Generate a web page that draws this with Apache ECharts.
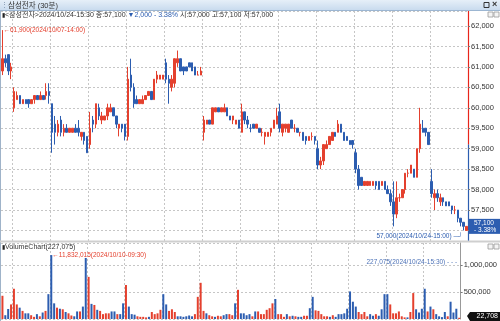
<!DOCTYPE html>
<html>
<head>
<meta charset="utf-8">
<script src="https://cdn.jsdelivr.net/npm/echarts@6/dist/echarts.min.js"></script>
<style>
  html, body { margin: 0; padding: 0; background: #fff; }
  #chart { width: 500px; height: 321px; }
</style>
</head>
<body>
<div id="chart"></div>
<script>
// 삼성전자 30분봉: [시가, 종가, 저가, 고가]
const stockName = '삼성전자';
const days = ['2024/10/07', '2024/10/08', '2024/10/10', '2024/10/11', '2024/10/14', '2024/10/15',
  '2024/10/16', '2024/10/17', '2024/10/18', '2024/10/21', '2024/10/22', '2024/10/23', '2024/10/24'];
const sessionTimes = ['09:30', '10:00', '10:30', '11:00', '11:30', '12:00', '12:30',
  '13:00', '13:30', '14:00', '14:30', '15:00', '15:30'];
const firstDayTimes = ['14:00', '14:30', '15:00', '15:30'];

const oct07 = [[60900,61200,60800,61900],[61200,61100,61000,61300],[61300,60900,60800,61300],[60900,61000,60700,61100]];
const oct08 = [[60000,60400,59900,60500],[60200,60300,60200,60400],[60300,60100,60100,60300],[60100,60200,60100,60200],
  [60200,60100,60100,60200],[60200,60100,60000,60200],[60100,60200,60100,60200],[60200,60300,60100,60300],
  [60300,60200,60200,60300],[60200,60300,60200,60400],[60300,60200,60200,60300],[60300,60400,60200,60600],[60400,60300,60100,60600]];
const oct10 = [[60100,59400,58900,60100],[59600,59400,59100,59800],[59400,59600,59300,59700],[59700,59400,59300,59800],
  [59400,59500,59300,59600],[59500,59400,59400,59600],[59400,59500,59400,59500],[59400,59500,59400,59500],
  [59500,59400,59400,59600],[59500,59400,59300,59700],[59300,59400,59200,59400],[59400,59200,59100,59400],[59300,58900,58900,59300]];
const oct11 = [[59100,59500,59000,59900],[59700,59600,59400,59800],[59600,60100,59500,60100],[60000,59800,59700,60100],
  [59700,59800,59600,59900],[59700,59800,59700,59800],[59800,60000,59700,60100],[59900,60000,59900,60100],
  [60000,59800,59800,60000],[59800,59600,59500,59800],[59500,59600,59300,59600],[59600,59500,59400,59600],[59600,59300,59200,59600]];
const oct14 = [[59300,60700,59200,61000],[60800,60500,60400,61200],[60500,60100,60000,60600],[60200,60100,60100,60300],
  [60100,60200,60100,60200],[60100,60200,60100,60300],[60200,60300,60200,60300],[60300,60400,60300,60400],
  [60400,60200,60200,60400],[60200,60700,60200,60700],[60700,60800,60600,60900],[60700,60800,60700,60800],[60700,60800,60700,60800]];
const oct15 = [[61100,60700,60600,61200],[60700,60600,60100,60800],[60500,60700,60400,60800],[60600,61200,60500,61200],
  [61100,61200,61000,61400],[61200,60900,60900,61200],[61000,60900,60800,61000],[61000,60900,60900,61000],
  [61100,61000,61000,61100],[61100,60900,60900,61100],[61000,60800,60800,61000],[60800,60800,60800,60900],[60800,60900,60800,61000]];
const oct16 = [[59400,59700,59200,59800],[59600,59700,59600,59700],[59700,59600,59600,59700],[59600,60000,59600,60000],
  [59900,60000,59900,60000],[60000,59900,59900,60000],[59900,60000,59900,60000],[59900,60000,59900,60100],
  [60000,59800,59800,60000],[59800,59700,59700,59800],[59700,59800,59600,59800],[59600,59700,59600,59700],[59700,59500,59500,59700]];
const oct17 = [[59400,59900,59400,60100],[59900,59700,59600,59900],[59700,59600,59500,59800],[59500,59500,59400,59600],
  [59600,59500,59500,59600],[59500,59600,59500,59600],[59500,59400,59400,59500],[59400,59400,59300,59500],
  [59300,59400,59100,59400],[59300,59400,59300,59400],[59400,59500,59300,59500],[59500,59700,59500,59700],[59600,59800,59600,60000]];
const oct18 = [[59900,59500,59400,60100],[59400,59600,59300,59600],[59500,59600,59400,59600],[59400,59600,59400,59600],
  [59700,59500,59500,59700],[59500,59500,59400,59600],[59500,59400,59400,59500],[59400,59400,59300,59400],
  [59400,59200,59200,59400],[59300,59200,59100,59300],[59200,59300,59200,59300],[59300,59300,59200,59400],[59300,59200,59100,59300]];
const oct21 = [[59000,58600,58500,59200],[58600,58700,58500,58800],[58700,59100,58600,59100],[59000,59100,59000,59200],
  [59100,59300,59100,59300],[59200,59400,59200,59400],[59400,59300,59300,59400],[59400,59600,59400,59700],
  [59600,59400,59400,59600],[59400,59200,59200,59400],[59300,59200,59200,59300],[59200,59100,59100,59200],[59200,59100,59000,59200]];
const oct22 = [[58900,58500,58400,59000],[58500,58100,58000,58600],[58300,58100,58100,58300],[58100,58200,58100,58200],
  [58100,58200,58100,58200],[58100,58200,58100,58200],[58100,58200,58100,58200],[58200,58100,58000,58200],
  [58200,58000,58000,58200],[58100,58200,58100,58200],[58200,58000,58000,58200],[58000,57900,57900,58100],[57900,57700,57600,58000]];
const oct23 = [[57700,57400,57100,58200],[57400,57800,57300,58200],[57800,57800,57700,57900],[57800,58000,57800,58000],
  [58000,58400,57900,58400],[58400,58400,58300,58500],[58400,58600,58400,58600],[58500,58300,58300,58500],
  [58300,59000,58300,59000],[59000,59600,58900,60000],[59500,59400,59400,59700],[59500,59400,59300,59500],[59400,59100,59100,59400]];
const oct24 = [[58200,57900,57800,58500],[57800,57900,57500,58000],[57900,57800,57700,58000],[57700,57800,57600,57900],
  [57800,57700,57600,57800],[57700,57600,57600,57700],[57700,57600,57600,57700],[57600,57500,57400,57600],
  [57500,57500,57400,57600],[57500,57300,57200,57500],[57300,57200,57100,57300],[57200,57100,57000,57200],[57000,57100,57000,57100]];

// 거래량
const vol07 = [4300000, 700000, 1850000, 2700000];
const vol08 = [5600000, 2700000, 2100000, 1500000, 1050000, 1050000, 700000, 400000, 900000, 500000, 1200000, 1500000, 4600000];
const vol10 = [11832015, 2900000, 2100000, 1900000, 1800000, 1300000, 1050000, 650000, 500000, 1400000, 1400000, 2300000, 11300000];
const vol11 = [7800000, 2800000, 2600000, 1700000, 1500000, 900000, 1050000, 1050000, 1400000, 1400000, 900000, 900000, 2900000];
const vol14 = [6300000, 2300000, 900000, 800000, 500000, 400000, 400000, 300000, 400000, 1300000, 900000, 1050000, 1700000];
const vol15 = [4600000, 2700000, 1500000, 1800000, 1300000, 500000, 500000, 400000, 500000, 650000, 500000, 900000, 4100000];
const vol16 = [6700000, 1500000, 1050000, 700000, 500000, 400000, 600000, 500000, 700000, 900000, 900000, 700000, 2900000];
const vol17 = [5400000, 1050000, 1050000, 700000, 900000, 500000, 1400000, 1400000, 900000, 900000, 1700000, 2000000, 2900000];
const vol18 = [3700000, 900000, 900000, 400000, 900000, 500000, 600000, 500000, 400000, 400000, 600000, 600000, 2000000];
const vol21 = [4100000, 1600000, 1500000, 900000, 500000, 500000, 400000, 700000, 400000, 900000, 900000, 1050000, 1900000];
const vol22 = [5100000, 3200000, 2300000, 1300000, 900000, 1300000, 500000, 900000, 600000, 900000, 600000, 1800000, 4600000];
const vol23 = [4600000, 2700000, 1050000, 1050000, 1400000, 500000, 300000, 300000, 1300000, 4800000, 1800000, 1200000, 1900000];
const vol24 = [5600000, 1400000, 2300000, 1800000, 900000, 500000, 350000, 1300000, 500000, 3200000, 1200000, 1900000, 227075];

const volTickValues = [5000000, 10000000];
const volTickLabels = ['500,000', '1,000,000'];
const volBoxLabel = '22,708';

const dayCandles = [oct07, oct08, oct10, oct11, oct14, oct15, oct16, oct17, oct18, oct21, oct22, oct23, oct24];
const dayVolumes = [vol07, vol08, vol10, vol11, vol14, vol15, vol16, vol17, vol18, vol21, vol22, vol23, vol24];

const upColor = '#e4402e';
const downColor = '#2c5db0';
const gridColor = '#c6c6c6';
const font = '"Liberation Sans Narrow", "Liberation Sans", "Noto Sans CJK KR", sans-serif';
const fmt = v => v.toLocaleString('en-US');

const categories = [];
const candles = [];
const volumes = [];
days.forEach((day, d) => {
  const times = d === 0 ? firstDayTimes : sessionTimes;
  dayCandles[d].forEach((c, i) => {
    categories.push(day + '-' + times[i]);
    candles.push(c);
    volumes.push(dayVolumes[d][i]);
  });
});

const isUp = i => {
  const [o, c] = candles[i];
  if (c !== o) return c > o;
  return i === 0 || candles[i - 1][1] <= c;
};
const volumeData = volumes.map((v, i) => ({ value: v, itemStyle: { color: isUp(i) ? upColor : downColor } }));

let maxIdx = 0, minIdx = 0, volMaxIdx = 0;
candles.forEach((c, i) => {
  if (c[3] > candles[maxIdx][3]) maxIdx = i;
  if (c[2] < candles[minIdx][2]) minIdx = i;
  if (volumes[i] > volumes[volMaxIdx]) volMaxIdx = i;
});
const last = candles.length - 1;
const lastBar = candles[last];
const prevClose = candles[last - 13][1];
const change = lastBar[1] - prevClose;
const pct = Math.abs(change / prevClose * 100).toFixed(2);
const isDayStart = (idx) => categories[idx].endsWith('09:30');

// 축 범위 (그림에 맞춘 값)
const priceMin = 56742, priceMax = 62367;
const volMax = 14070000;

const chart = echarts.init(document.getElementById('chart'), null, { renderer: 'canvas' });

const xAxisBase = {
  type: 'category', data: categories, boundaryGap: true,
  axisLine: { show: false }, axisTick: { show: false }, axisLabel: { show: false },
  splitLine: { show: true, interval: isDayStart, lineStyle: { color: gridColor, type: [2, 2], width: 1 } }
};

chart.setOption({
  animation: false,
  textStyle: { fontFamily: font },
  grid: [
    { left: 1, right: 32, top: 11, height: 230 },
    { left: 1, right: 32, top: 243, bottom: 2 }
  ],
  xAxis: [
    Object.assign({ gridIndex: 0 }, xAxisBase),
    Object.assign({ gridIndex: 1 }, xAxisBase)
  ],
  yAxis: [
    {
      type: 'value', gridIndex: 0, position: 'right', min: priceMin, max: priceMax,
      splitNumber: 10, minInterval: 500, maxInterval: 500,
      axisLine: { show: false },
      axisTick: { show: true, length: 2, lineStyle: { color: '#777' } },
      axisLabel: { fontSize: 7.5, color: '#333', margin: 3, showMinLabel: false, showMaxLabel: false,
        fontFamily: font, formatter: v => fmt(v) },
      splitLine: { lineStyle: { color: gridColor, type: [2, 2] } }
    },
    {
      type: 'value', gridIndex: 1, position: 'right', min: 0, max: volMax, interval: 5000000,
      axisLine: { show: true, lineStyle: { color: '#999' } },
      axisTick: { show: true, length: 2, lineStyle: { color: '#777' } },
      axisLabel: { fontSize: 7.5, color: '#333', margin: 3, showMinLabel: false, showMaxLabel: false,
        fontFamily: font,
        formatter: v => { const k = volTickValues.indexOf(v); return k >= 0 ? volTickLabels[k] : ''; } },
      splitLine: { lineStyle: { color: gridColor, type: [2, 2] } }
    }
  ],
  series: [
    {
      type: 'candlestick', xAxisIndex: 0, yAxisIndex: 0, data: candles, barWidth: 2,
      itemStyle: { color: upColor, color0: downColor, borderColor: upColor, borderColor0: downColor, borderWidth: 1 },
      markPoint: {
        symbol: 'circle', symbolSize: 0, silent: true,
        data: [
          { coord: [maxIdx, candles[maxIdx][3]],
            label: { show: true, position: 'right', distance: 1, color: upColor, fontSize: 6.5, fontFamily: font,
              formatter: '←' + fmt(candles[maxIdx][3]) + '(' + categories[maxIdx] + ')' } },
          { coord: [minIdx, candles[minIdx][2]],
            label: { show: true, position: 'left', distance: 1, offset: [0, 6], color: downColor, fontSize: 6.5,
              fontFamily: font, formatter: fmt(candles[minIdx][2]) + '(' + categories[minIdx] + ') ─┘' } }
        ]
      },
      markLine: {
        silent: true, symbol: 'none',
        lineStyle: { color: 'rgba(0,0,0,0)', width: 0 },
        data: [{
          yAxis: lastBar[1],
          label: { show: true, position: 'end', distance: 1, color: '#fff', backgroundColor: downColor,
            fontSize: 6.5, lineHeight: 7, padding: [1, 4, 0, 5], fontFamily: font,
            formatter: fmt(lastBar[1]) + '\n' + (change < 0 ? '- ' : '+ ') + pct + '%' }
        }]
      }
    },
    {
      type: 'bar', xAxisIndex: 1, yAxisIndex: 1, data: volumeData, barWidth: 2,
      markPoint: {
        symbol: 'circle', symbolSize: 0, silent: true,
        data: [{ coord: [volMaxIdx, volumes[volMaxIdx]],
          label: { show: true, position: 'right', distance: 1, color: upColor, fontSize: 6.5, fontFamily: font,
            formatter: '←' + fmt(volumes[volMaxIdx]) + '(' + categories[volMaxIdx] + ')' } }]
      }
    }
  ]
});

// 축선 색 (전일 종가 기준 위 빨강, 아래 파랑) 과 화면 장식
const axisX = 468.5;
const yPrev = chart.convertToPixel({ yAxisIndex: 0 }, prevClose);
const lastX = chart.convertToPixel({ xAxisIndex: 1 }, last);

chart.setOption({
  graphic: [
    { type: 'rect', shape: { x: 0, y: 0, width: 500, height: 10 },
      style: { fill: new echarts.graphic.LinearGradient(0, 0, 0, 1, [{ offset: 0, color: '#e6eff8' }, { offset: 1, color: '#c9dbee' }]) } },
    { type: 'line', shape: { x1: 0, y1: 10.5, x2: 500, y2: 10.5 }, style: { stroke: '#9cb6d2', lineWidth: 1 } },
    { type: 'text', x: 1, y: 5, style: { text: '⋮', fill: '#7a8ea6', fontSize: 7, verticalAlign: 'middle', fontFamily: font } },
    { type: 'text', x: 8, y: 5.5, style: { text: stockName + ' (30분)', fill: '#333', fontSize: 7.5, verticalAlign: 'middle', fontFamily: font } },
    { type: 'rect', shape: { x: 484, y: 2.5, width: 5, height: 5 }, style: { fill: 'none', stroke: '#333', lineWidth: 1 } },
    { type: 'text', x: 492, y: 5, style: { text: '×', fill: '#333', fontSize: 9, fontWeight: 'bold', verticalAlign: 'middle', fontFamily: font } },
    { type: 'text', x: 2, y: 15.5, style: {
        text: '{a|▮}{b|<' + stockName + '>' + categories[last] + ' 종:' + fmt(lastBar[1]) + ' }{c|▼' + fmt(Math.abs(change)) +
          ' - ' + pct + '%}{b| 시:' + fmt(lastBar[0]) + ' 고:' + fmt(lastBar[3]) + ' 저:' + fmt(lastBar[2]) + '}',
        verticalAlign: 'middle',
        rich: {
          a: { fontSize: 6, fill: '#222', fontFamily: font },
          b: { fontSize: 7, fill: '#333', fontFamily: font },
          c: { fontSize: 7, fill: downColor, fontFamily: font }
        } } },
    { type: 'rect', shape: { x: 488, y: 12, width: 5, height: 5 }, style: { fill: '#f4f4f4', stroke: '#999', lineWidth: 0.8 } },
    { type: 'rect', shape: { x: 494, y: 12, width: 5, height: 5 }, style: { fill: '#f4f4f4', stroke: '#999', lineWidth: 0.8 } },
    { type: 'line', shape: { x1: 0.5, y1: 11, x2: 0.5, y2: 321 }, style: { stroke: '#9fb3c9', lineWidth: 1 } },
    { type: 'line', shape: { x1: axisX, y1: 11, x2: axisX, y2: yPrev }, style: { stroke: '#e8251b', lineWidth: 1.2 } },
    { type: 'line', shape: { x1: axisX, y1: yPrev, x2: axisX, y2: 241 }, style: { stroke: downColor, lineWidth: 1.2 } },
    { type: 'rect', shape: { x: 0, y: 240.5, width: 500, height: 2 }, style: { fill: '#cfcfcf' } },
    { type: 'text', x: 2, y: 247.5, style: {
        text: '{a|▮}{b|VolumeChart(' + fmt(volumes[last]) + ')}', verticalAlign: 'middle',
        rich: { a: { fontSize: 6, fill: '#222', fontFamily: font }, b: { fontSize: 7, fill: '#333', fontFamily: font } } } },
    { type: 'rect', shape: { x: 488, y: 244, width: 5, height: 5 }, style: { fill: '#f4f4f4', stroke: '#999', lineWidth: 0.8 } },
    { type: 'rect', shape: { x: 494, y: 244, width: 5, height: 5 }, style: { fill: '#f4f4f4', stroke: '#999', lineWidth: 0.8 } },
    { type: 'text', x: lastX - 2, y: 262, style: {
        text: fmt(volumes[last]) + '(' + categories[last] + ') - - -', align: 'right', verticalAlign: 'middle',
        fill: '#4f74b8', fontSize: 6.5, fontFamily: font } },
    { type: 'polygon', shape: { points: [[467, 316], [470, 312], [500, 312], [500, 321], [470, 321]] }, style: { fill: '#111' } },
    { type: 'text', x: 498, y: 316.5, style: { text: volBoxLabel, align: 'right', verticalAlign: 'middle', fill: '#fff', fontSize: 7, fontFamily: font } }
  ]
});
</script>
</body>
</html>
